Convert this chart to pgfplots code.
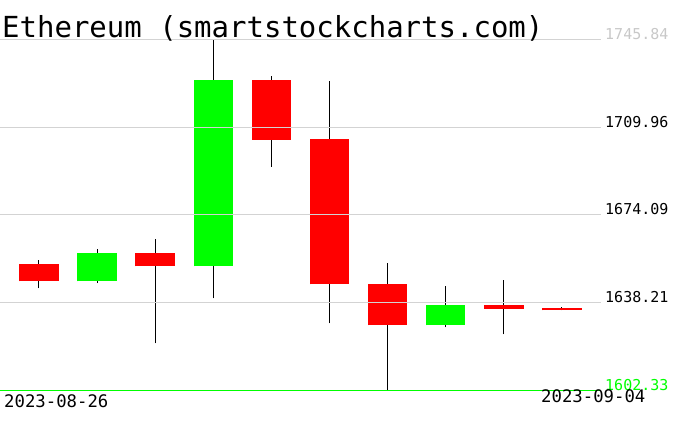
\documentclass[border=0pt]{standalone}
\usepackage{pgfplots}
\pgfplotsset{compat=1.18}
\usepackage{pgfplotstable}
\usepackage{fontspec}
\setmainfont{DejaVu Sans Mono}
\definecolor{cred}{RGB}{255,0,0}
\definecolor{cgreen}{RGB}{0,255,0}
\definecolor{cgrid}{RGB}{211,211,211}
\definecolor{clab}{RGB}{200,200,200}

% falling candles (open > close)
\pgfplotstableread{
x o h l c
0 1654.07 1655.71 1643.96 1646.82
2 1658.58 1664.32 1621.40 1652.97
4 1729.45 1731.09 1693.94 1705.00
5 1705.20 1729.04 1629.60 1645.59
6 1645.88 1654.48 1602.33 1628.80
8 1637.28 1647.52 1625.11 1635.64
9 1636.04 1636.45 1634.94 1634.94
}\redc
% rising candles (close > open)
\pgfplotstableread{
x o h l c
1 1646.82 1660.22 1646.17 1658.58
3 1652.97 1745.84 1639.86 1729.45
7 1628.80 1645.06 1627.98 1637.28
}\greenc

\begin{document}
\begin{tikzpicture}[x=1bp,y=1bp]
\useasboundingbox (0,0) rectangle (676,431);
\begin{axis}[at={(0bp,41bp)}, anchor=south west, scale only axis,
  width=601bp, height=350bp,
  xmin=-0.671, xmax=9.673, ymin=1602.33, ymax=1745.84,
  hide axis, clip=false]
% wicks
\addplot[draw=none, mark=none, forget plot,
  error bars/.cd, y dir=plus, y explicit, error mark=none,
  error bar style={line width=1bp, color=black}]
  table[x=x, y=l, y error plus expr={\thisrow{h}-\thisrow{l}}] {\redc};
\addplot[draw=none, mark=none, forget plot,
  error bars/.cd, y dir=plus, y explicit, error mark=none,
  error bar style={line width=1bp, color=black}]
  table[x=x, y=l, y error plus expr={\thisrow{h}-\thisrow{l}}] {\greenc};
% bodies
\addplot[draw=none, mark=none, forget plot,
  error bars/.cd, y dir=plus, y explicit, error mark=none,
  error bar style={line width=39.5bp, color=cred}]
  table[x=x, y=c, y error plus expr={\thisrow{o}-\thisrow{c}}] {\redc};
\addplot[draw=none, mark=none, forget plot,
  error bars/.cd, y dir=plus, y explicit, error mark=none,
  error bar style={line width=39.5bp, color=cgreen}]
  table[x=x, y=o, y error plus expr={\thisrow{c}-\thisrow{o}}] {\greenc};
% grid lines
\addplot[cgrid, line width=1bp, mark=none] coordinates {(-0.671,1745.84) (9.673,1745.84)};
\addplot[cgrid, line width=1bp, mark=none] coordinates {(-0.671,1709.96) (9.673,1709.96)};
\addplot[cgrid, line width=1bp, mark=none] coordinates {(-0.671,1674.09) (9.673,1674.09)};
\addplot[cgrid, line width=1bp, mark=none] coordinates {(-0.671,1638.21) (9.673,1638.21)};
\addplot[cgreen, line width=1bp, mark=none] coordinates {(-0.671,1602.33) (9.673,1602.33)};
% price labels
\node[anchor=base west, inner sep=0, text=clab, font=\fontsize{15bp}{16bp}\selectfont] at (axis cs:9.673,1745.84) [xshift=4bp] {1745.84};
\node[anchor=base west, inner sep=0, text=black, font=\fontsize{15bp}{16bp}\selectfont] at (axis cs:9.673,1709.96) [xshift=4bp] {1709.96};
\node[anchor=base west, inner sep=0, text=black, font=\fontsize{15bp}{16bp}\selectfont] at (axis cs:9.673,1674.09) [xshift=4bp] {1674.09};
\node[anchor=base west, inner sep=0, text=black, font=\fontsize{15bp}{16bp}\selectfont] at (axis cs:9.673,1638.21) [xshift=4bp] {1638.21};
\node[anchor=base west, inner sep=0, text=cgreen, font=\fontsize{15bp}{16bp}\selectfont] at (axis cs:9.673,1602.33) [xshift=4bp] {1602.33};
\end{axis}
\node[anchor=base west, inner sep=0, font=\fontsize{29bp}{32bp}\selectfont] at (2,393.7) {Ethereum (smartstockcharts.com)};
\node[anchor=base west, inner sep=0, font=\fontsize{17.3bp}{18bp}\selectfont] at (4,24) {2023-08-26};
\node[anchor=base west, inner sep=0, font=\fontsize{17.3bp}{18bp}\selectfont] at (541,29) {2023-09-04};
\end{tikzpicture}
\end{document}
